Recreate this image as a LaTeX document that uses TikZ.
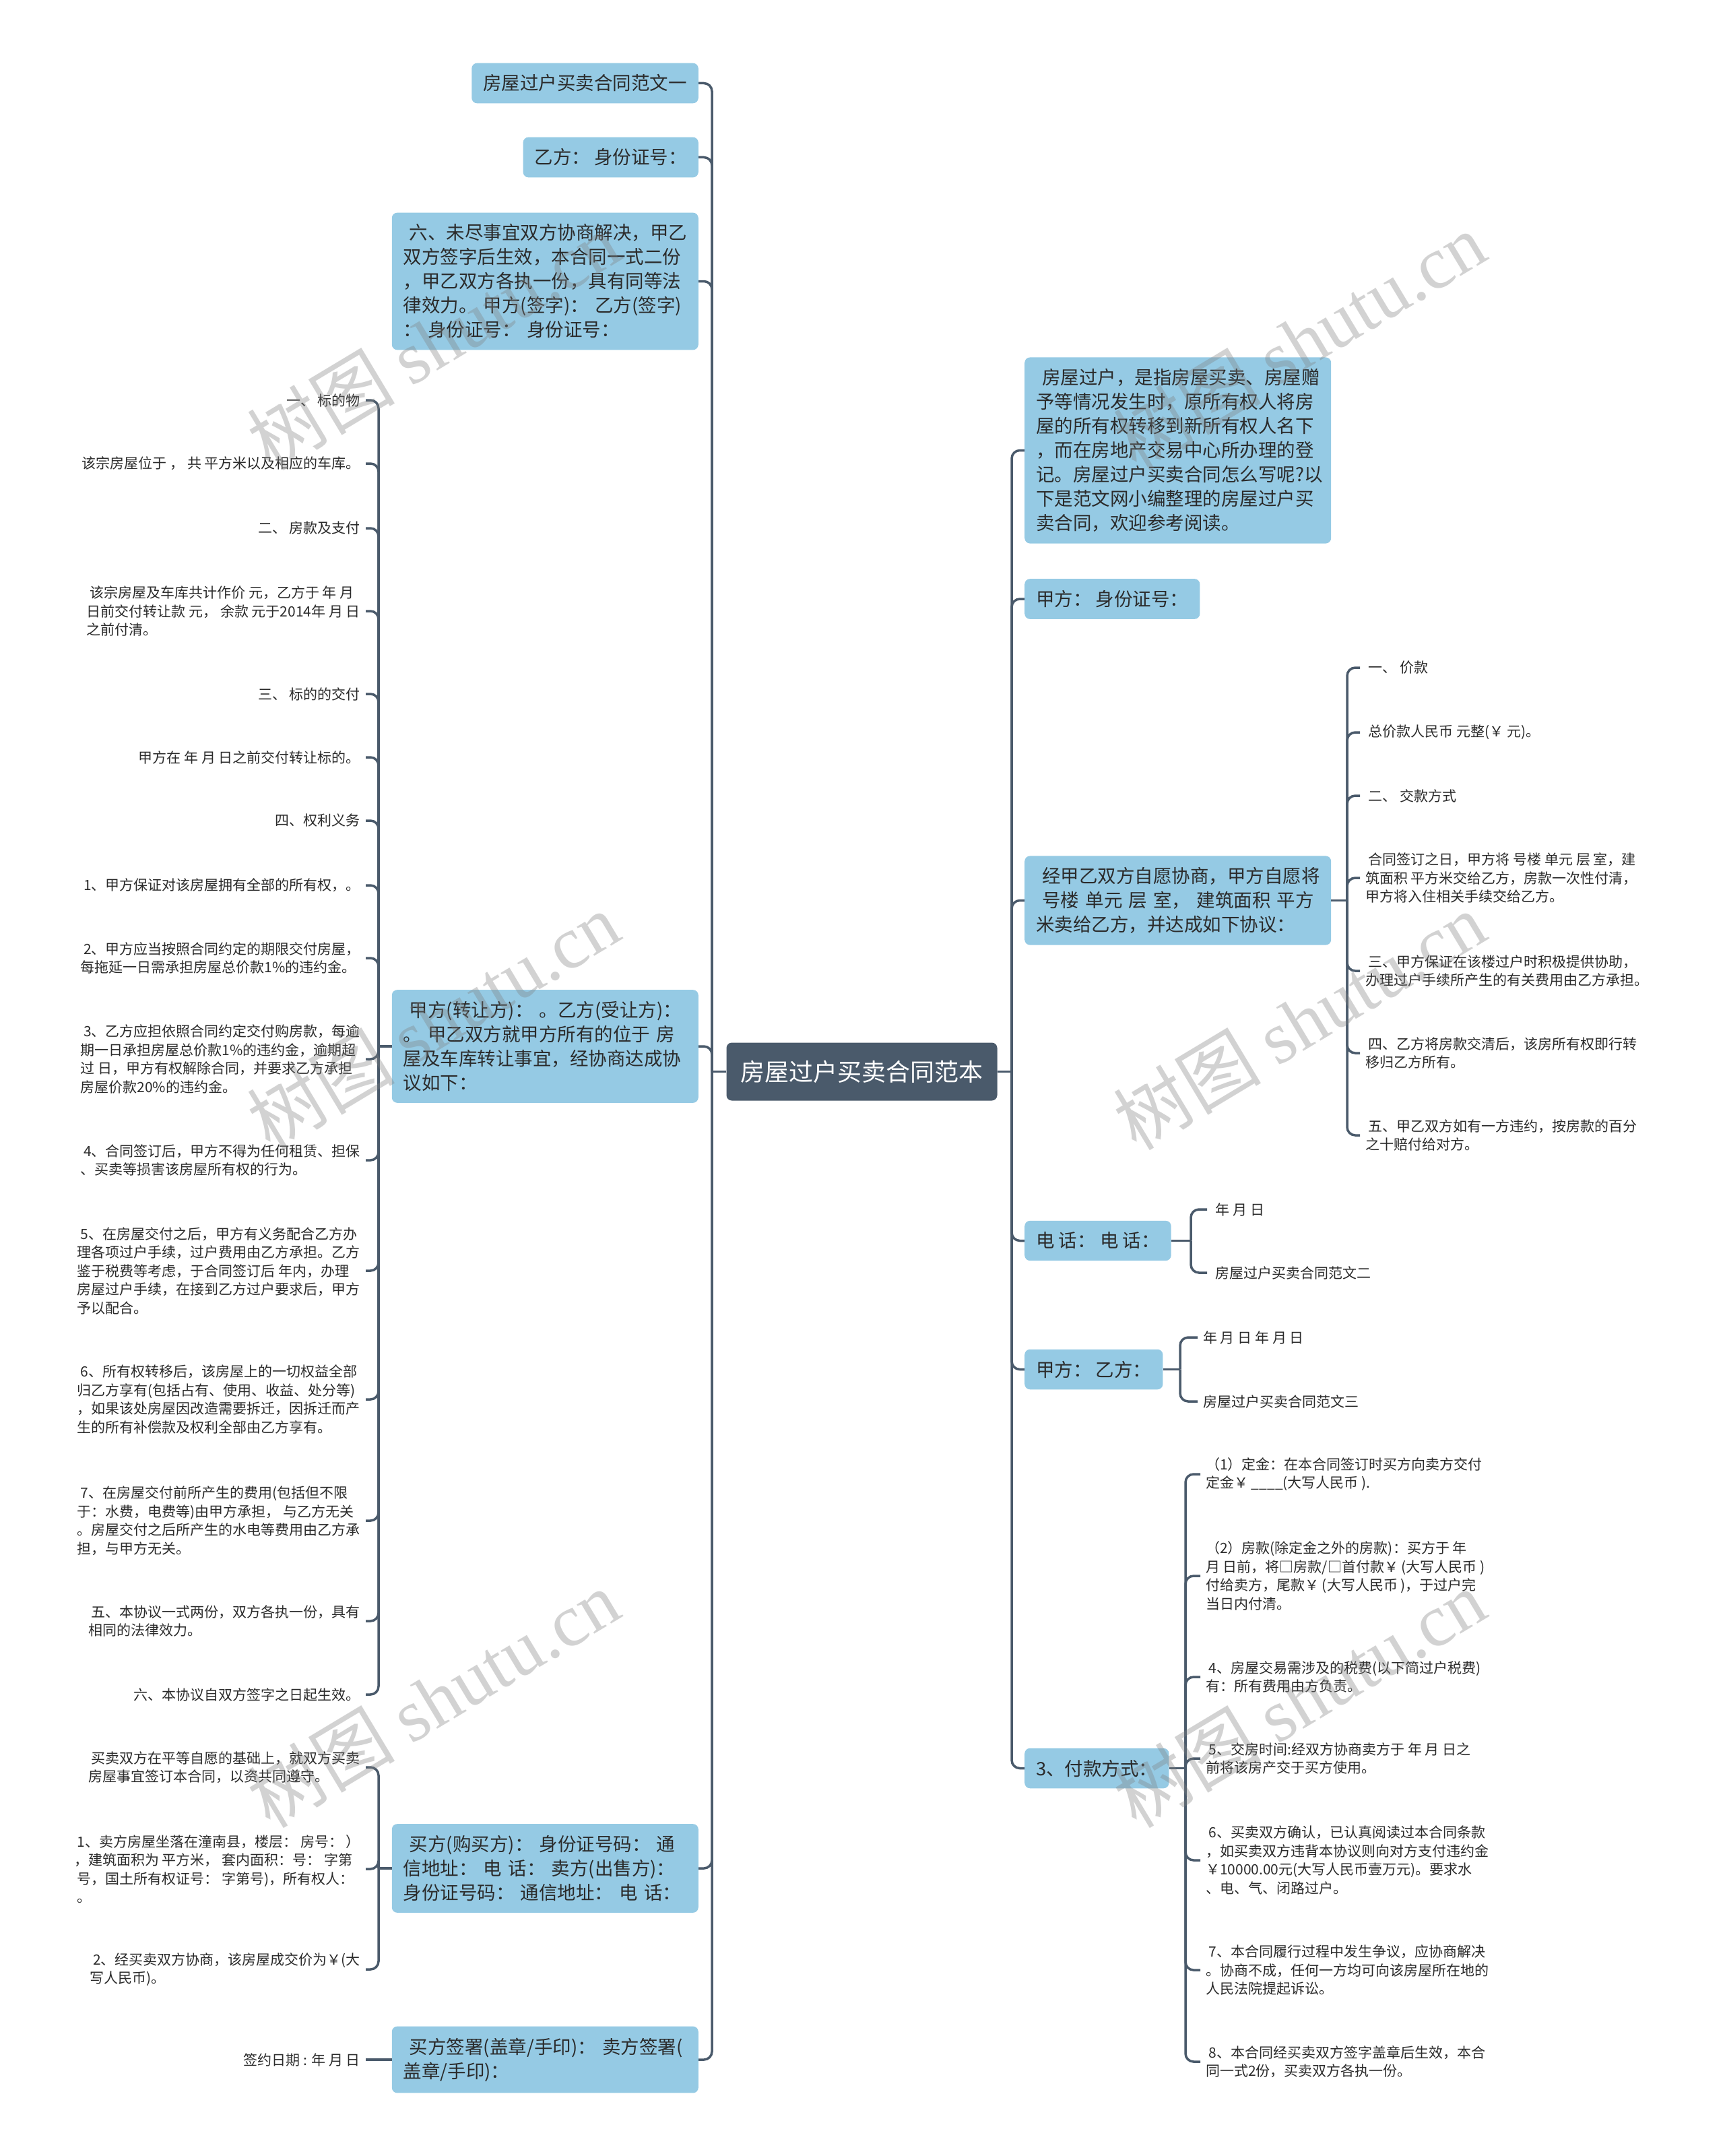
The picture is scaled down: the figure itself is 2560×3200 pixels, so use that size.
\documentclass[tikz,border=0pt]{standalone}
\usepackage{fontspec}
\setmainfont{Noto Sans CJK SC}
\newfontfamily\markfont{Liberation Serif}
\usepackage{xcolor}
\usepackage{tikz}
\definecolor{slate}{HTML}{4A5A6B}
\definecolor{skyfill}{HTML}{95CAE4}
\definecolor{inktext}{HTML}{2B2B2B}

\begin{document}
\begin{tikzpicture}[x=1pt, y=-1pt,
	root/.style={fill=slate, text=white, rounded corners=8pt, minimum width=402pt, minimum height=86pt, font=\fontsize{36pt}{44pt}\selectfont},
	topic/.style={fill=skyfill, text=inktext, rounded corners=8pt, inner xsep=17pt, inner ysep=17pt, font=\fontsize{27.5pt}{36pt}\selectfont},
	wide/.style={topic, text width=421pt, align=left},
	leaf/.style={text=inktext, inner xsep=8pt, inner ysep=2pt, align=left, font=\fontsize{21pt}{27.5pt}\selectfont},
	link/.style={draw=slate, line width=3.5pt, rounded corners=12pt},
	wmark/.style={rotate=31, text=gray, text opacity=0.35, font=\fontsize{110pt}{110pt}\selectfont}]
	\fill[white] (0,0) rectangle (2560,3200);
	\useasboundingbox (0,0) rectangle (2560,3200);

	\node[root] (root) at (1279.5, 1590.5) {房屋过户买卖合同范本};

	% left side
	\node[topic, anchor=east] (A1) at (1037, 123.5) {房屋过户买卖合同范文一};
	\node[topic, anchor=east] (A2) at (1037, 233.5) {乙方： 身份证号：};
	\node[wide, anchor=east] (A3) at (1037, 417.5) {\ 六、未尽事宜双方协商解决，甲乙\\双方签字后生效，本合同一式二份\\，甲乙双方各执一份，具有同等法\\律效力。~甲方(签字)：~乙方(签字)\\：~身份证号：~身份证号：};
	\node[wide, anchor=east] (A4) at (1037, 1553) {\ 甲方(转让方)：~。乙方(受让方)：\\。~甲乙双方就甲方所有的位于~房\\屋及车库转让事宜，经协商达成协\\议如下：};
	\node[wide, anchor=east] (A5) at (1037, 2773) {\ 买方(购买方)：~身份证号码：~通\\信地址：~电~话：~卖方(出售方)：\\身份证号码：~通信地址：~电~话：};
	\node[wide, anchor=east] (A6) at (1037, 3057) {\ 买方签署(盖章/手印)：~卖方签署(\\盖章/手印)：};

	\node[leaf, anchor=east] (L1) at (543, 594) {一、 标的物};
	\node[leaf, anchor=east] (L2) at (543, 688) {该宗房屋位于 ， 共 平方米以及相应的车库。};
	\node[leaf, anchor=east] (L3) at (543, 784) {二、 房款及支付};
	\node[leaf, anchor=east] (L4) at (543, 907) {\ 该宗房屋及车库共计作价 元，乙方于 年 月\\日前交付转让款 元， 余款 元于2014年 月 日\\之前付清。};
	\node[leaf, anchor=east] (L5) at (543, 1030) {三、 标的的交付};
	\node[leaf, anchor=east] (L6) at (543, 1124) {甲方在 年 月 日之前交付转让标的。};
	\node[leaf, anchor=east] (L7) at (543, 1218) {四、权利义务};
	\node[leaf, anchor=east] (L8) at (543, 1314) {1、甲方保证对该房屋拥有全部的所有权，。};
	\node[leaf, anchor=east] (L9) at (543, 1422) {\ 2、甲方应当按照合同约定的期限交付房屋，\\每拖延一日需承担房屋总价款1\%的违约金。};
	\node[leaf, anchor=east] (L10) at (543, 1572) {\ 3、乙方应担依照合同约定交付购房款，每逾\\期一日承担房屋总价款1\%的违约金，逾期超\\过 日，甲方有权解除合同，并要求乙方承担\\房屋价款20\%的违约金。};
	\node[leaf, anchor=east] (L11) at (543, 1722) {\ 4、合同签订后，甲方不得为任何租赁、担保\\、买卖等损害该房屋所有权的行为。};
	\node[leaf, anchor=east] (L12) at (543, 1886) {\ 5、在房屋交付之后，甲方有义务配合乙方办\\理各项过户手续，过户费用由乙方承担。乙方\\鉴于税费等考虑，于合同签订后 年内，办理\\房屋过户手续，在接到乙方过户要求后，甲方\\予以配合。};
	\node[leaf, anchor=east] (L13) at (543, 2077) {\ 6、所有权转移后，该房屋上的一切权益全部\\归乙方享有(包括占有、使用、收益、处分等)\\，如果该处房屋因改造需要拆迁，因拆迁而产\\生的所有补偿款及权利全部由乙方享有。};
	\node[leaf, anchor=east] (L14) at (543, 2257) {\ 7、在房屋交付前所产生的费用(包括但不限\\于：水费，电费等)由甲方承担， 与乙方无关\\。房屋交付之后所产生的水电等费用由乙方承\\担，与甲方无关。};
	\node[leaf, anchor=east] (L15) at (543, 2406) {\ 五、本协议一式两份，双方各执一份，具有\\相同的法律效力。};
	\node[leaf, anchor=east] (L16) at (543, 2515) {六、本协议自双方签字之日起生效。};
	\node[leaf, anchor=east] (L17) at (543, 2623) {\ 买卖双方在平等自愿的基础上，就双方买卖\\房屋事宜签订本合同，以资共同遵守。};
	\node[leaf, anchor=east] (L18) at (543, 2774) {\ 1、卖方房屋坐落在潼南县，楼层： 房号： ）\\，建筑面积为 平方米， 套内面积：号： 字第\\\ 号，国土所有权证号： 字第号)，所有权人：\\\ 。};
	\node[leaf, anchor=east] (L19) at (543, 2923) {\ 2、经买卖双方协商，该房屋成交价为￥(大\\写人民币)。};
	\node[leaf, anchor=east] (L20) at (543, 3057) {签约日期 : 年 月 日};

	% right side
	\node[wide, anchor=west] (B1) at (1521, 668.5) {\ 房屋过户，是指房屋买卖、房屋赠\\予等情况发生时，原所有权人将房\\屋的所有权转移到新所有权人名下\\，而在房地产交易中心所办理的登\\记。房屋过户买卖合同怎么写呢?以\\下是范文网小编整理的房屋过户买\\卖合同，欢迎参考阅读。};
	\node[topic, anchor=west] (B2) at (1521, 889) {甲方： 身份证号：};
	\node[wide, anchor=west] (B3) at (1521, 1336.5) {\ 经甲乙双方自愿协商，甲方自愿将\\~号楼~单元~层~室，~建筑面积~平方\\米卖给乙方，并达成如下协议：};
	\node[topic, anchor=west] (B4) at (1521, 1841.5) {电 话： 电 话：};
	\node[topic, anchor=west] (B5) at (1521, 2032.5) {甲方： 乙方：};
	\node[topic, anchor=west] (B6) at (1521, 2624.5) {3、付款方式：};

	\node[leaf, anchor=west] (R1) at (2019, 991) {\ 一、 价款};
	\node[leaf, anchor=west] (R2) at (2019, 1087) {\ 总价款人民币 元整(￥ 元)。};
	\node[leaf, anchor=west] (R3) at (2019, 1181) {\ 二、 交款方式};
	\node[leaf, anchor=west] (R4) at (2019, 1303) {\ 合同签订之日，甲方将 号楼 单元 层 室，建\\筑面积 平方米交给乙方，房款一次性付清，\\甲方将入住相关手续交给乙方。};
	\node[leaf, anchor=west] (R5) at (2019, 1441) {\ 三、甲方保证在该楼过户时积极提供协助，\\办理过户手续所产生的有关费用由乙方承担。};
	\node[leaf, anchor=west] (R6) at (2019, 1563) {\ 四、乙方将房款交清后，该房所有权即行转\\移归乙方所有。};
	\node[leaf, anchor=west] (R7) at (2019, 1685) {\ 五、甲乙双方如有一方违约，按房款的百分\\之十赔付给对方。};

	\node[leaf, anchor=west] (R8) at (1792, 1795) {\ 年 月 日};
	\node[leaf, anchor=west] (R9) at (1792, 1889) {\ 房屋过户买卖合同范文二};
	\node[leaf, anchor=west] (R10) at (1778, 1985) {年 月 日 年 月 日};
	\node[leaf, anchor=west] (R11) at (1778, 2080) {房屋过户买卖合同范文三};

	\node[leaf, anchor=west] (R12) at (1782, 2188) {（1）定金：在本合同签订时买方向卖方交付\\定金￥ \_\_\_\_(大写人民币 ).};
	\node[leaf, anchor=west] (R13) at (1782, 2339) {（2）房款(除定金之外的房款)：买方于 年\\月 日前，将□房款/□首付款￥ (大写人民币 )\\付给卖方，尾款￥ (大写人民币 )，于过户完\\当日内付清。};
	\node[leaf, anchor=west] (R14) at (1782, 2489) {\ 4、房屋交易需涉及的税费(以下简过户税费)\\有：所有费用由方负责。};
	\node[leaf, anchor=west] (R15) at (1782, 2610) {\ 5、交房时间:经双方协商卖方于 年 月 日之\\前将该房产交于买方使用。};
	\node[leaf, anchor=west] (R16) at (1782, 2761) {\ 6、买卖双方确认，已认真阅读过本合同条款\\，如买卖双方违背本协议则向对方支付违约金\\￥10000.00元(大写人民币壹万元)。要求水\\、电、气、闭路过户。};
	\node[leaf, anchor=west] (R17) at (1782, 2924) {\ 7、本合同履行过程中发生争议，应协商解决\\。协商不成，任何一方均可向该房屋所在地的\\人民法院提起诉讼。};
	\node[leaf, anchor=west] (R18) at (1782, 3060) {\ 8、本合同经买卖双方签字盖章后生效，本合\\同一式2份，买卖双方各执一份。};

	% connectors
	\coordinate (lj) at (1057, 1590.5);
	\coordinate (rj) at (1502, 1590.5);
	\draw[link] (root.west) -- (lj);
	\draw[link] (root.east) -- (rj);
	\foreach \n in {A1,A2,A3,A4,A5,A6} \draw[link] (lj) |- (\n.east);
	\foreach \n in {B1,B2,B3,B4,B5,B6} \draw[link] (rj) |- (\n.west);

	\coordinate (tj) at (562, 1553);
	\draw[link] (A4.west) -- (tj);
	\foreach \n in {1,...,16} \draw[link] (tj) |- (L\n.east);
	\coordinate (bj) at (562, 2773);
	\draw[link] (A5.west) -- (bj);
	\foreach \n in {17,18,19} \draw[link] (bj) |- (L\n.east);
	\draw[link] (A6.west) -- (L20.east);

	\coordinate (cj3) at (2000, 1336.5);
	\draw[link] (B3.east) -- (cj3);
	\foreach \n in {1,...,7} \draw[link] (cj3) |- (R\n.west);
	\coordinate (cj4) at (1768, 1841.5);
	\draw[link] (B4.east) -- (cj4);
	\foreach \n in {8,9} \draw[link] (cj4) |- (R\n.west);
	\coordinate (cj5) at (1752, 2032.5);
	\draw[link] (B5.east) -- (cj5);
	\foreach \n in {10,11} \draw[link] (cj5) |- (R\n.west);
	\coordinate (cj6) at (1760, 2624.5);
	\draw[link] (B6.east) -- (cj6);
	\foreach \n in {12,...,18} \draw[link] (cj6) |- (R\n.west);

	% watermarks
	\foreach \x in {643,1929}
		\foreach \y in {506,1515,2521}
			\node[wmark] (wm-\x-\y) at (\x,\y) {树图 {\markfont shutu.cn}};
\end{tikzpicture}
\end{document}
